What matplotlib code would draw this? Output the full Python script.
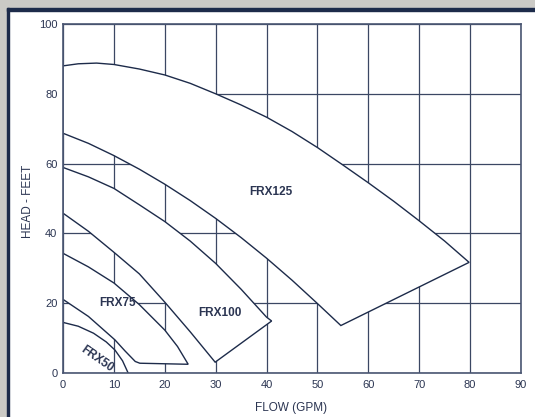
import matplotlib.pyplot as plt
from matplotlib.patches import Rectangle

# pump curve envelopes (flow gpm, head feet)
frx125_top_x = [0, 3, 6.6, 10, 15, 20, 25, 30, 35, 40, 45, 50, 55, 60, 65, 70, 75, 79.8]
frx125_top_y = [88, 88.6, 88.8, 88.4, 87.1, 85.4, 83, 80, 76.8, 73.3, 69.2, 64.6, 59.6, 54.5, 49.2, 43.6, 37.8, 31.7]
frx125_low_x = [0, 5, 10, 15, 20, 25, 30, 35, 40, 45, 50, 54.6]
frx125_low_y = [68.7, 65.8, 62.3, 58.4, 54.1, 49.4, 44.3, 38.8, 32.9, 26.6, 19.9, 13.6]

frx100_top_x = [0, 5, 10, 15, 20, 25, 30, 35, 40, 41]
frx100_top_y = [58.9, 56.2, 52.9, 48.2, 43.4, 37.8, 31.4, 24, 16, 14.9]
frx100_low_x = [0, 5, 10, 15, 20, 25, 29.9]
frx100_low_y = [45.8, 40.6, 34.6, 28.4, 20.3, 11.8, 3.1]

frx75_top_x = [0, 5, 10, 15, 20, 22.5, 24.6]
frx75_top_y = [34.3, 30.4, 25.8, 19.6, 12.3, 7.6, 2.5]
frx75_low_x = [0, 5, 10.2, 12.2, 14.2, 15.1]
frx75_low_y = [21.1, 16.2, 9.5, 6.3, 3.3, 2.8]

frx50_x = [0, 3, 6, 8.5, 10.2, 11.7, 12.8]
frx50_y = [14.5, 13.4, 11.4, 8.9, 6.6, 3.5, 0]

labels = ['FRX125', 'FRX100', 'FRX75', 'FRX50']
label_pos = [(40.9, 51.9), (30.8, 17.3), (10.7, 20.1), (6.6, 3.9)]
label_rot = [0, 0, 0, -35]

x_ticks = list(range(0, 91, 10))
y_ticks = list(range(0, 101, 20))

navy = '#1d2b4a'
grid_c = '#3b4763'
text_c = '#2b3552'
font = ['Liberation Sans', 'DejaVu Sans']

fig = plt.figure(figsize=(5.35, 4.17), dpi=100)
fig.patch.set_facecolor('white')

# brushed metal strips and navy frame
W, H = 535.0, 417.0
fig.patches.append(Rectangle((0, 1 - 8 / H), 1, 8 / H, transform=fig.transFigure, color='#cbcac6', zorder=0))
fig.patches.append(Rectangle((0, 0), 6.5 / W, 1, transform=fig.transFigure, color='#cbcac6', zorder=0))
fig.patches.append(Rectangle((6.5 / W, 1 - 10.5 / H), 1, 2.5 / H, transform=fig.transFigure, color=navy, zorder=1))
fig.patches.append(Rectangle((6.5 / W, 0), 3 / W, 1 - 8 / H, transform=fig.transFigure, color=navy, zorder=1))

ax = fig.add_axes([63 / W, 44 / H, 458 / W, 349 / H])
ax.set_xlim(0, 90)
ax.set_ylim(0, 100)
ax.set_xticks(x_ticks)
ax.set_yticks(y_ticks)
ax.set_axisbelow(True)
ax.grid(True, color=grid_c, lw=0.9)
ax.tick_params(length=0, labelsize=8, colors=text_c)
ax.tick_params(axis='x', pad=5)
ax.tick_params(axis='y', pad=4)
for lab in ax.get_xticklabels() + ax.get_yticklabels():
    lab.set_family(font)
for s in ax.spines.values():
    s.set_color('#4a5672')
    s.set_linewidth(1.2)

# filled envelopes hide the grid
px = frx125_top_x + frx125_low_x[::-1]
py = frx125_top_y + frx125_low_y[::-1]
ax.fill(px, py, facecolor='white', edgecolor=navy, lw=1, zorder=2)

px = frx100_top_x + frx100_low_x[::-1]
py = frx100_top_y + frx100_low_y[::-1]
ax.fill(px, py, facecolor='white', edgecolor=navy, lw=1, zorder=2)

px = frx75_top_x + frx75_low_x[::-1]
py = frx75_top_y + frx75_low_y[::-1]
ax.fill(px, py, facecolor='white', edgecolor=navy, lw=1, zorder=2)

ax.plot(frx50_x, frx50_y, color=navy, lw=1, zorder=2)

for name, (tx, ty), rot in zip(labels, label_pos, label_rot):
    ax.text(tx, ty, name, ha='center', va='center', rotation=rot, fontsize=8.5,
            fontweight='bold', color=text_c, family=font, zorder=3)

fig.text(291 / W, 1 - 408 / H, 'FLOW (GPM)', ha='center', va='center',
         fontsize=8.5, color=text_c, family=font)
fig.text(28 / W, 1 - 201 / H, 'HEAD - FEET', ha='center', va='center', rotation=90,
         fontsize=8.5, color=text_c, family=font)

fig.savefig('out.png', dpi=100)
